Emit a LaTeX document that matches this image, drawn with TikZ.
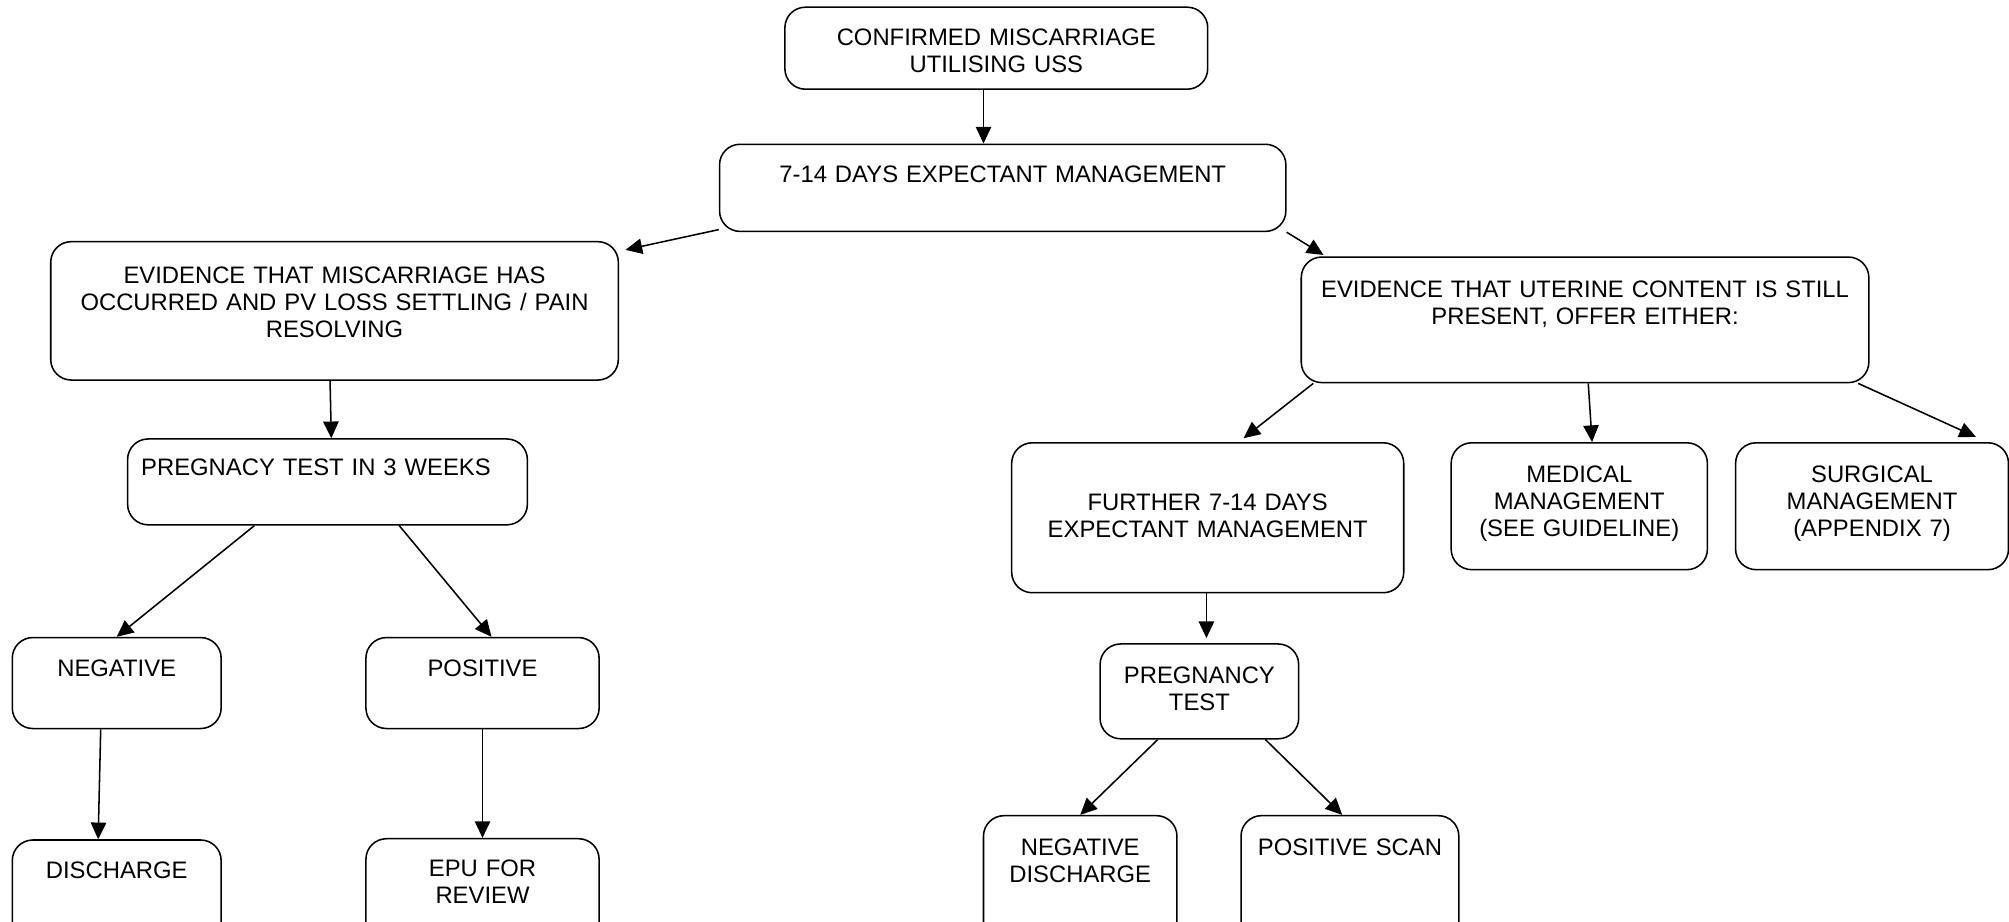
\documentclass[tikz,border=0pt]{standalone}
\usepackage{fontspec}
\setmainfont{Liberation Sans}
\usepackage{tikz}
\usetikzlibrary{arrows.meta,positioning}
\tikzstyle{flowbox} = [draw, line width=0.6pt, rounded corners=8pt, anchor=north west, align=center, inner xsep=2pt, inner ysep=0pt, font=\fontsize{9.3}{10.6}\selectfont]
\tikzstyle{arrow} = [line width=0.6pt,->,>={Triangle[length=6.5pt,width=6pt]}]

\begin{document}
\begin{tikzpicture}[x=0.5pt,y=-0.5pt]
			\clip (0,0) rectangle (1568,719.6);
			% level 1 and 2
			\coordinate (P11) at (612,5);
			\coordinate (P21) at (561,112);
			% level 3
			\coordinate (P31) at (39,188);
			\coordinate (P32) at (1015,200);
			% level 4
			\coordinate (P41) at (99,342);
			\coordinate (P42) at (789,345);
			\coordinate (P43) at (1132,345);
			\coordinate (P44) at (1354,345);
			% level 5
			\coordinate (P51) at (9,497);
			\coordinate (P52) at (285,497);
			\coordinate (P53) at (858,502);
			% level 6
			\coordinate (P61) at (9,655);
			\coordinate (P62) at (285,654);
			\coordinate (P63) at (767,636);
			\coordinate (P64) at (968,636);
			\begin{scope}[every node/.style={flowbox}]
			\node[name=B11, text width=161pt, text height=14.85pt, text depth=17.15pt] at (P11) {CONFIRMED MISCARRIAGE\\UTILISING USS};
			\node[name=B21, text width=217pt, text height=14.85pt, text depth=19.15pt] at (P21) {7-14 DAYS EXPECTANT MANAGEMENT};
			\node[name=B31, text width=217.5pt, text height=16.35pt, text depth=37.65pt] at (P31) {EVIDENCE THAT MISCARRIAGE HAS\\OCCURRED AND PV LOSS SETTLING / PAIN\\RESOLVING};
			\node[name=B32, text width=217.5pt, text height=15.85pt, text depth=33.15pt] at (P32) {EVIDENCE THAT UTERINE CONTENT IS STILL\\PRESENT, OFFER EITHER:};
			\node[name=B41, text width=152pt, text height=14.35pt, text depth=19.15pt] at (P41) {PREGNACY TEST IN 3 WEEKS\hspace{9pt}\mbox{}};
			\node[name=B42, text width=149pt, text height=26.35pt, text depth=32.15pt] at (P42) {FURTHER 7-14 DAYS\\EXPECTANT MANAGEMENT};
			\node[name=B43, text width=96pt, text height=15.35pt, text depth=34.15pt] at (P43) {MEDICAL\\MANAGEMENT\\(SEE GUIDELINE)};
			\node[name=B44, text width=102.5pt, text height=15.35pt, text depth=34.15pt] at (P44) {SURGICAL\\MANAGEMENT\\(APPENDIX 7)};
			\node[name=B51, text width=77.5pt, text height=15.35pt, text depth=20.15pt] at (P51) {NEGATIVE};
			\node[name=B52, text width=87pt, text height=15.35pt, text depth=20.15pt] at (P52) {POSITIVE};
			\node[name=B53, text width=73.5pt, text height=15.35pt, text depth=21.65pt] at (P53) {PREGNANCY\\TEST};
			\node[name=B61, text width=77.5pt, text height=14.85pt, text depth=27.65pt] at (P61) {DISCHARGE};
			\node[name=B62, text width=87pt, text height=14.85pt, text depth=28.15pt] at (P62) {EPU FOR\\REVIEW};
			\node[name=B63, text width=71.5pt, text height=15.35pt, text depth=36.65pt] at (P63) {NEGATIVE\\DISCHARGE};
			\node[name=B64, text width=81pt, text height=15.35pt, text depth=36.65pt] at (P64) {POSITIVE SCAN};
			\end{scope}
			% connectors
			\draw[arrow] ([xshift=-5pt]B11.south) -- ([xshift=-7.5pt]B21.north);
			\draw[arrow] ([yshift=1pt]B21.south west) -- ([xshift=2.5pt,yshift=-3.5pt]B31.north east);
			\draw[arrow] (B21.south east) -- ([xshift=9pt,yshift=0.5pt]B32.north west);
			\draw[arrow] ([xshift=-1.75pt]B31.south) -- ([xshift=1.5pt]B41.north);
			\draw[arrow] ([xshift=-28.5pt]B41.south) -- (B51.north);
			\draw[arrow] ([xshift=28pt]B41.south) -- ([xshift=3.5pt]B52.north);
			\draw[arrow] ([xshift=-6.25pt]B51.south) -- ([xshift=-7.25pt]B61.north);
			\draw[arrow] (B52.south) -- (B62.north);
			\draw[arrow] ([xshift=5pt]B32.south west) -- ([xshift=14pt,yshift=1.5pt]B42.north);
			\draw[arrow] ([xshift=1.25pt]B32.south) -- ([xshift=5pt]B43.north);
			\draw[arrow] ([xshift=-4.5pt]B32.south east) -- ([xshift=-13pt,yshift=2pt]B44.north east);
			\draw[arrow] ([xshift=-0.5pt]B42.south) -- ([xshift=2.75pt,yshift=2pt]B53.north);
			\draw[arrow] ([xshift=-16.25pt]B53.south) -- (B63.north);
			\draw[arrow] ([xshift=25.75pt]B53.south) -- ([xshift=-3pt]B64.north);
\end{tikzpicture}
\end{document}
